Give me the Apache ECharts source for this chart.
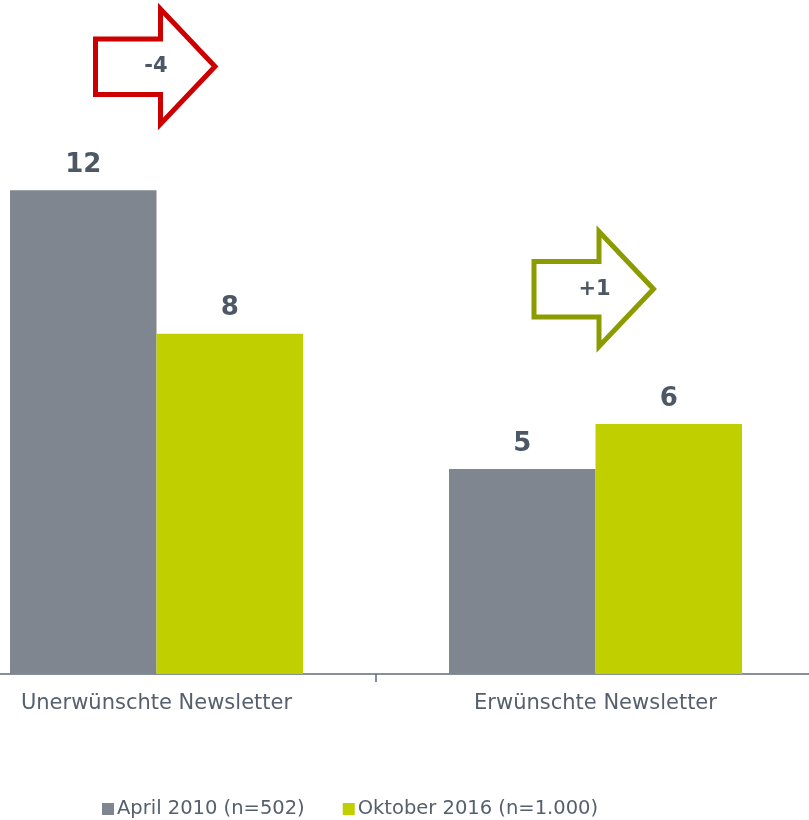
<!DOCTYPE html>
<html>
<head>
<meta charset="utf-8">
<script src="https://cdn.jsdelivr.net/npm/echarts@6/dist/echarts.min.js"></script>
<style>
  html, body { margin: 0; padding: 0; background: #fff; }
  #chart { width: 809px; height: 820px; }
</style>
</head>
<body>
<div id="chart"></div>
<script>
// Daten
var categories = ['Unerwünschte Newsletter', 'Erwünschte Newsletter'];
var seriesNames = ['April 2010 (n=502)', 'Oktober 2016 (n=1.000)'];
var april2010 = [11.8, 5.0];
var oktober2016 = [8.3, 6.1];
var changes = ['-4', '+1'];

var textColor = '#56606d';
var labelColor = '#4d5866';

// Pfeil-Form (Umriss)
function arrow(x, y, color, txt) {
    return {
        type: 'group',
        x: x,
        y: y,
        children: [
            {
                type: 'polygon',
                shape: {
                    points: [[2.5, 34], [67.5, 34], [67.5, 4], [122, 61.5], [67.5, 119], [67.5, 89.5], [2.5, 89.5]]
                },
                style: { fill: '#fff', stroke: color, lineWidth: 5, lineJoin: 'miter' }
            },
            {
                type: 'text',
                x: 63,
                y: 62,
                style: {
                    text: txt,
                    fill: labelColor,
                    font: 'bold 21px "DejaVu Sans", Verdana, sans-serif',
                    align: 'center',
                    verticalAlign: 'middle'
                }
            }
        ]
    };
}

var myChart = echarts.init(document.getElementById('chart'));
var option = {
    animation: false,
    textStyle: { fontFamily: '"DejaVu Sans", Verdana, sans-serif' },
    color: ['#7f8690', '#bfcf00'],
    legend: {
        left: 97,
        top: 794,
        itemWidth: 12,
        itemHeight: 12,
        itemGap: 38,
        icon: 'rect',
        textStyle: { color: textColor, fontSize: 19.5, padding: [0, 0, 0, -2] },
        data: seriesNames
    },
    grid: { left: -63, right: -6, top: 100, bottom: 146, outerBoundsMode: 'none' },
    xAxis: {
        type: 'category',
        data: categories,
        axisLine: { lineStyle: { color: '#5c6b7a', width: 1.5 } },
        axisTick: { show: true, interval: 0, length: 8, lineStyle: { color: '#5c6b7a', width: 1.5 } },
        axisLabel: { color: textColor, fontSize: 21, margin: 19 }
    },
    yAxis: {
        type: 'value',
        min: 0,
        max: 14,
        show: false,
        splitLine: { show: false }
    },
    series: [
        {
            name: seriesNames[0],
            type: 'bar',
            barWidth: 146.5,
            barGap: '0%',
            data: april2010,
            label: {
                show: true,
                position: 'top',
                distance: 12,
                color: labelColor,
                fontSize: 26,
                fontWeight: 'bold',
                formatter: function (p) { return Math.round(p.value); }
            }
        },
        {
            name: seriesNames[1],
            type: 'bar',
            barWidth: 146.5,
            barGap: '0%',
            data: oktober2016,
            label: {
                show: true,
                position: 'top',
                distance: 12,
                color: labelColor,
                fontSize: 26,
                fontWeight: 'bold',
                formatter: function (p) { return Math.round(p.value); }
            }
        }
    ],
    graphic: [
        arrow(93, 5, '#cc0000', changes[0]),
        arrow(531.5, 227.5, '#8c9c00', changes[1])
    ]
};
myChart.setOption(option);
</script>
</body>
</html>
